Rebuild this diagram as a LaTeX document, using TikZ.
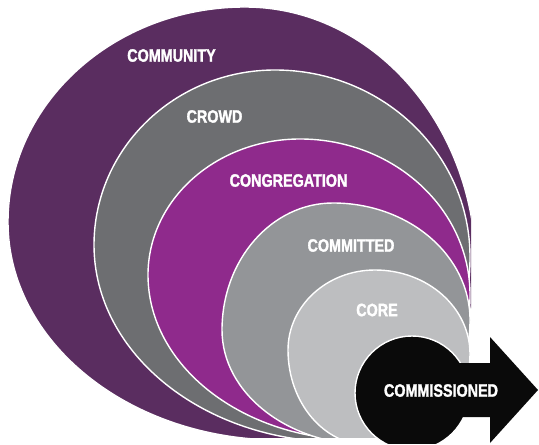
\documentclass[tikz,border=0pt]{standalone}
\usepackage{fontspec}
\newfontfamily\ringfont[FakeStretch=0.8, FakeBold=1.6]{Liberation Sans}

\definecolor{community}{HTML}{5A2D60}
\definecolor{crowd}{HTML}{6D6E71}
\definecolor{congregation}{HTML}{8F2A8C}
\definecolor{committed}{HTML}{939598}
\definecolor{core}{HTML}{BDBEC0}
\definecolor{commissioned}{HTML}{0A0A0A}

\tikzset{
  ring/.style={fill=#1, draw=white, line width=1.4bp},
  ringtext/.style={text=white, inner sep=0pt, font=\ringfont\bfseries\fontsize{18}{18}\selectfont}
}

\begin{document}
\begin{tikzpicture}[x=1bp, y=-1bp]
\useasboundingbox (0,0) rectangle (539,445);

\begin{scope}
\clip (0,0) rectangle (471,437);
\filldraw[ring=community] (8,222) arc[start angle=180, end angle=270, x radius=237, y radius=215]
  arc[start angle=270, end angle=360, x radius=231, y radius=263]
  arc[start angle=0, end angle=90, x radius=196, y radius=170]
  arc[start angle=90, end angle=180, x radius=272, y radius=218] -- cycle;
\filldraw[ring=crowd] (94,245) arc[start angle=180, end angle=270, x radius=181, y radius=175]
  arc[start angle=270, end angle=360, x radius=195, y radius=187]
  arc[start angle=0, end angle=90, x radius=130, y radius=185]
  arc[start angle=90, end angle=180, x radius=246, y radius=197] -- cycle;
\filldraw[ring=congregation] (148,275) arc[start angle=180, end angle=270, x radius=152, y radius=136]
  arc[start angle=270, end angle=360, x radius=170, y radius=156]
  arc[start angle=0, end angle=90, x radius=110, y radius=145]
  arc[start angle=90, end angle=180, x radius=212, y radius=165] -- cycle;
\filldraw[ring=committed] (222,330) arc[start angle=180, end angle=270, x radius=111, y radius=127]
  arc[start angle=270, end angle=360, x radius=137, y radius=117]
  arc[start angle=0, end angle=90, x radius=100, y radius=125]
  arc[start angle=90, end angle=180, x radius=148, y radius=115] -- cycle;
\filldraw[ring=core] (288,350) arc[start angle=180, end angle=270, x radius=87, y radius=80]
  arc[start angle=270, end angle=360, x radius=95, y radius=84]
  arc[start angle=0, end angle=90, x radius=102, y radius=91]
  arc[start angle=90, end angle=180, x radius=80, y radius=95] -- cycle;
\end{scope}

\begin{scope}
\clip (0,0) rectangle (539,443);
\filldraw[ring=commissioned] (412,393) circle[radius=57];
\fill[commissioned] (440,363) -- (490,363) -- (490,337) -- (538,390) -- (490,443) -- (490,417) -- (440,417) -- cycle;
\end{scope}

\node[ringtext] (community) at (171.5,55.5) {COMMUNITY};
\node[ringtext] (crowd) at (214.5,116.5) {CROWD};
\node[ringtext] (congregation) at (288.5,180.5) {CONGREGATION};
\node[ringtext] (committed) at (351,245.5) {COMMITTED};
\node[ringtext] (core) at (377,310) {CORE};
\node[ringtext] (commissioned) at (441,390.5) {COMMISSIONED};
\end{tikzpicture}
\end{document}
